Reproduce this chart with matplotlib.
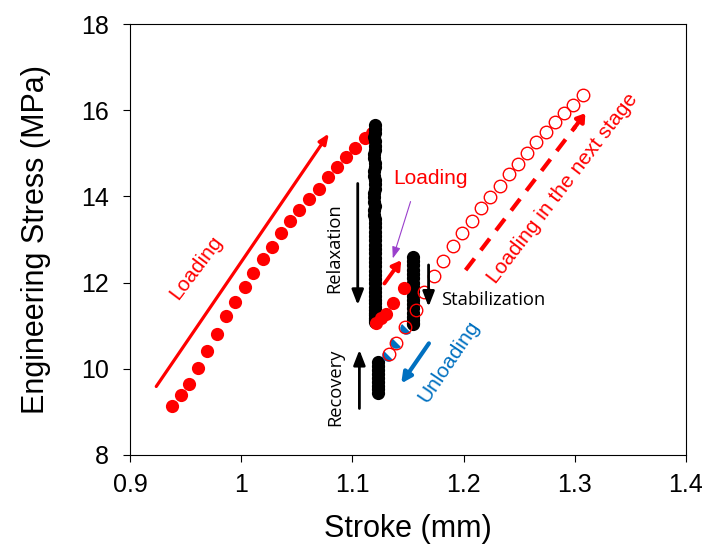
import matplotlib
matplotlib.use("Agg")
import matplotlib.pyplot as plt
from matplotlib.markers import MarkerStyle
from matplotlib.transforms import Affine2D

plt.rcParams['font.family'] = ['Liberation Sans', 'DejaVu Sans']

# first loading (filled red)
load1_x = [0.938, 0.946, 0.953, 0.961, 0.969, 0.978, 0.986, 0.994, 1.003, 1.011, 1.020, 1.028,
           1.036, 1.044, 1.052, 1.061, 1.070, 1.078, 1.086, 1.094, 1.102, 1.111, 1.118]
load1_y = [9.14, 9.39, 9.65, 10.03, 10.42, 10.80, 11.22, 11.56, 11.90, 12.23, 12.55, 12.83,
           13.14, 13.42, 13.69, 13.94, 14.18, 14.44, 14.68, 14.91, 15.13, 15.35, 15.48]

# relaxation (black)
relax_x = [1.1205, 1.1202, 1.1200, 1.1198, 1.1201, 1.1203, 1.1199, 1.1197, 1.1196, 1.1199,
           1.1201, 1.1198, 1.1197, 1.1200, 1.1203, 1.1199, 1.1198, 1.1195, 1.1197, 1.1200,
           1.1198, 1.1196, 1.1199, 1.1203, 1.1201, 1.1199, 1.1200, 1.1201, 1.1203, 1.1204,
           1.1205, 1.1203, 1.1202, 1.1204, 1.1205, 1.1206, 1.1204, 1.1203, 1.1205, 1.1206,
           1.1207, 1.1205, 1.1204, 1.1206, 1.1205, 1.1206, 1.1205, 1.1204, 1.1205, 1.1204]
relax_y = [15.65, 15.56, 15.47, 15.38, 15.28, 15.18, 15.08, 14.98, 14.88, 14.78,
           14.68, 14.58, 14.48, 14.38, 14.28, 14.18, 14.08, 13.98, 13.88, 13.78,
           13.68, 13.58, 13.48, 13.38, 13.28, 13.18, 13.08, 12.98, 12.88, 12.78,
           12.68, 12.58, 12.48, 12.38, 12.28, 12.18, 12.08, 11.98, 11.88, 11.78,
           11.69, 11.60, 11.52, 11.44, 11.37, 11.30, 11.24, 11.18, 11.13, 11.09]

# second loading (filled red)
load2_x = [1.1213, 1.1258, 1.1300, 1.1365, 1.1460]
load2_y = [11.06, 11.18, 11.28, 11.52, 11.87]

# stabilization (black)
stab_x = [1.1543, 1.1545, 1.1542, 1.1544, 1.1543, 1.1545, 1.1542, 1.1544, 1.1543, 1.1545,
          1.1544, 1.1543, 1.1544, 1.1543, 1.1545, 1.1544, 1.1543, 1.1544]
stab_y = [12.59, 12.50, 12.40, 12.30, 12.20, 12.10, 12.00, 11.90, 11.80, 11.70,
          11.60, 11.50, 11.40, 11.30, 11.21, 11.13, 11.07, 11.03]

# unloading (blue)
unload_x = [1.1484, 1.1394, 1.1318]
unload_y = [10.94, 10.63, 10.32]

# recovery (black)
recov_x = [1.1230, 1.1228, 1.1230, 1.1228, 1.1230, 1.1229, 1.1230, 1.1229, 1.1228]
recov_y = [10.15, 10.06, 9.97, 9.88, 9.79, 9.70, 9.61, 9.53, 9.45]

# loading in the next stage (open red)
load3_x = [1.1325, 1.1395, 1.1472, 1.1568, 1.1642, 1.1736, 1.1817, 1.1907, 1.1988, 1.2077, 1.2159,
           1.2240, 1.2325, 1.2407, 1.2488, 1.2569, 1.2654, 1.2740, 1.2821, 1.2900, 1.2984, 1.3073]
load3_y = [10.35, 10.60, 10.96, 11.37, 11.78, 12.15, 12.51, 12.85, 13.14, 13.43, 13.72,
           13.99, 14.24, 14.52, 14.76, 15.00, 15.26, 15.49, 15.73, 15.93, 16.13, 16.36]

RED = '#FF0000'
BLUE = '#0070C0'
PURPLE = '#9A3FCC'

fig = plt.figure(figsize=(7.07, 5.45), dpi=100)
ax = fig.add_axes([130 / 707, 90 / 545, 556 / 707, 431 / 545])

ms = 9.5
ax.plot(load1_x, load1_y, 'o', color=RED, ms=ms, mec='none', zorder=3)
ax.plot(relax_x, relax_y, 'o', color='black', ms=ms, mec='none', zorder=4)
ax.plot(load2_x, load2_y, 'o', color=RED, ms=ms, mec='none', zorder=5)
ax.plot(stab_x, stab_y, 'o', color='black', ms=ms, mec='none', zorder=4)
ax.plot(recov_x, recov_y, 'o', color='black', ms=ms, mec='none', zorder=4)
half = MarkerStyle('o', 'left', Affine2D().rotate_deg(45))
ax.plot(unload_x, unload_y, linestyle='none', marker=half, color=BLUE, ms=9,
        mec='none', zorder=6)
ax.plot(load3_x, load3_y, 'o', mfc='none', mec=RED, mew=1.0, ms=9, zorder=7)

ax.set_xlim(0.9, 1.4)
ax.set_ylim(8, 18)
ax.set_xticks([0.9, 1.0, 1.1, 1.2, 1.3, 1.4])
ax.set_xticklabels(['0.9', '1', '1.1', '1.2', '1.3', '1.4'])
ax.set_yticks([8, 10, 12, 14, 16, 18])
ax.tick_params(axis='both', direction='out', length=5, width=0.8, labelsize=18)
ax.tick_params(axis='x', pad=8)
ax.tick_params(axis='y', pad=10)
for s in ax.spines.values():
    s.set_linewidth(0.8)

ax.set_xlabel('Stroke (mm)', fontsize=22, labelpad=12)
ax.set_ylabel('Engineering Stress (MPa)', fontsize=22, labelpad=22)


def arrow(x0, y0, x1, y1, color, lw, hl=0.9, hw=0.45, ls='-'):
    ax.annotate('', xy=(x1, y1), xytext=(x0, y0),
                arrowprops=dict(arrowstyle='-|>,head_length=%s,head_width=%s' % (hl, hw),
                                color=color, lw=lw, linestyle=ls,
                                shrinkA=0, shrinkB=0), zorder=8)


# big loading arrow
arrow(0.9236, 9.59, 1.0789, 15.46, RED, 2.3, 0.6, 0.25)
ax.text(0.9597, 12.35, 'Loading', color=RED, fontsize=15, rotation=53,
        ha='center', va='center', rotation_mode='anchor')

# relaxation / recovery / stabilization
arrow(1.1048, 14.30, 1.1048, 11.48, 'black', 2.0, 0.9, 0.35)
arrow(1.1063, 9.08, 1.1063, 10.44, 'black', 2.0, 0.9, 0.35)
arrow(1.1685, 12.41, 1.1685, 11.44, 'black', 2.0, 0.9, 0.35)
ax.text(1.0838, 12.81, 'Relaxation', fontsize=13.2, family=['Open Sans', 'DejaVu Sans'],
        rotation=90, ha='center', va='center')
ax.text(1.0845, 9.57, 'Recovery', fontsize=13.2, family=['Open Sans', 'DejaVu Sans'],
        rotation=90, ha='center', va='center')
ax.text(1.1799, 11.60, 'Stabilization', fontsize=13.2, family=['Open Sans', 'DejaVu Sans'],
        ha='left', va='center')

# second loading
arrow(1.1288, 11.98, 1.1439, 12.52, RED, 2.8, 0.5, 0.3)
ax.text(1.170, 14.42, 'Loading', color=RED, fontsize=15, ha='center', va='center')
ax.annotate('', xy=(1.1363, 12.56), xytext=(1.1523, 13.88),
            arrowprops=dict(arrowstyle='-|>,head_length=0.7,head_width=0.25',
                            color=PURPLE, lw=0.8, shrinkA=0, shrinkB=0), zorder=8)

# unloading
arrow(1.1688, 10.59, 1.1439, 9.66, BLUE, 3.0, 0.6, 0.3)
ax.text(1.187, 10.16, 'Unloading', color=BLUE, fontsize=15, rotation=56,
        ha='center', va='center', rotation_mode='anchor')

# next stage
ax.plot([1.2018, 1.3005], [12.29, 15.62], color=RED, lw=3.0, dashes=(3.5, 2.5), zorder=8)
arrow(1.2990, 15.57, 1.3095, 15.93, RED, 3.0, 0.45, 0.3)
ax.text(1.289, 14.19, 'Loading in the next stage', color=RED, fontsize=15, rotation=52.5,
        ha='center', va='center', rotation_mode='anchor')

fig.savefig('out.png', dpi=100)
